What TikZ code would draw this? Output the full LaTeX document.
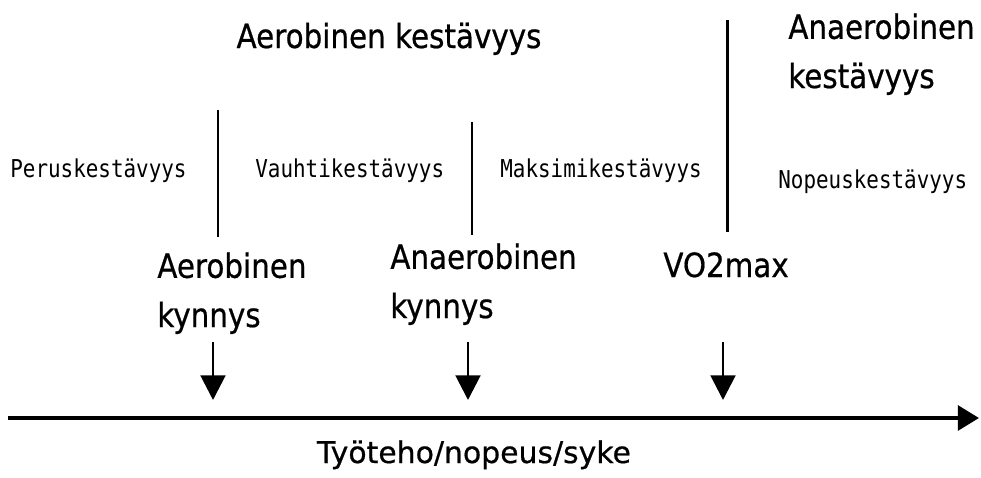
\documentclass[tikz,border=0pt]{standalone}
\usepackage{fontspec}
\usetikzlibrary{arrows.meta}
\newfontfamily\bigfont[FakeStretch=0.88,FakeBold=0.6]{DejaVu Sans}
\newfontfamily\axisfont[FakeBold=0.6]{DejaVu Sans}
\newfontfamily\thinfont[FakeStretch=0.85]{DejaVu Sans Mono}
\tikzset{
	big/.style={font=\bigfont\fontsize{19}{28}\selectfont, inner sep=0pt, align=left},
	small/.style={font=\thinfont\fontsize{14}{16}\selectfont, inner sep=0pt},
	divider/.style={line width=1.7pt},
	marker/.style={line width=1.7pt, -{Triangle[length=14pt,width=14pt]}},
	axis/.style={line width=2.3pt, -{Triangle[length=12pt,width=14pt]}}
}
\begin{document}
\begin{tikzpicture}[x=0.02cm, y=-0.02cm]
	\useasboundingbox (0,0) rectangle (981,477);
	% ylaotsikot
	\node[big, anchor=base] (aerob) at (389,48) {Aerobinen kestävyys};
	\node[big, anchor=base west] (anaerob) at (788,88) {Anaerobinen\\kestävyys};
	% alueet
	\foreach \x\t/\n in {10/Peruskestävyys/perus, 255/Vauhtikestävyys/vauhti, 500/Maksimikestävyys/maksimi}{
		\node[small, anchor=base west] (\n) at (\x,177) {\t};
	}
	\node[small, anchor=base west] (nopeus) at (778,188) {Nopeuskestävyys};
	% kynnykset
	\node[big, anchor=base west] (aerokyn) at (157,327) {Aerobinen\\kynnys};
	\node[big, anchor=base west] (anaerokyn) at (390,318) {Anaerobinen\\kynnys};
	\node[big, anchor=base west] (vo2) at (663,277) {VO2max};
	% rajaviivat
	\foreach \i\a\b in {1/218/110, 2/472/122, 3/727/20}{
		\coordinate (r\i) at (\a,\b);
	}
	\coordinate (s1) at (218,237);
	\coordinate (s2) at (472,235);
	\coordinate (s3) at (727,232);
	\foreach \i in {1,2,3}{
		\draw[divider] (r\i) -- (s\i);
	}
	% nuolet
	\foreach \i\x in {1/213, 2/468, 3/723}{
		\coordinate (n\i) at (\x,342);
		\coordinate (m\i) at (\x,400);
		\draw[marker] (n\i) -- (m\i);
	}
	% akseli
	\coordinate (alku) at (8,418);
	\coordinate (loppu) at (979,418);
	\draw[axis] (alku) -- (loppu);
	\node[font=\axisfont\fontsize{17}{20}\selectfont, inner sep=0pt, anchor=base] (teho) at (474,463) {Työteho/nopeus/syke};
\end{tikzpicture}
\end{document}
